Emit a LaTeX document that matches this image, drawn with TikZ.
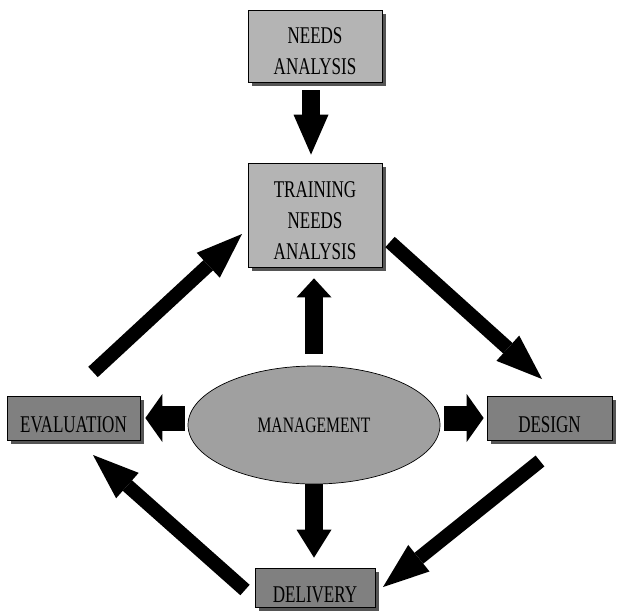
\documentclass[tikz,border=0pt]{standalone}
\usepackage{fontspec}
\newfontfamily\condserif[FakeStretch=0.71]{Liberation Serif}
\usetikzlibrary{arrows.meta,shapes.geometric,shadows}
\definecolor{lightbox}{RGB}{180,180,180}
\definecolor{darkbox}{RGB}{128,128,128}
\definecolor{ellfill}{RGB}{160,160,160}
\definecolor{shadowgray}{RGB}{85,85,85}
\tikzset{
  boxbase/.style={draw=black, line width=0.7pt, rectangle, inner sep=0pt,
    drop shadow={shadow xshift=4pt, shadow yshift=-4pt, fill=shadowgray, opacity=1},
    font={\condserif\fontsize{24}{31}\selectfont}},
  lightstep/.style={boxbase, fill=lightbox, text width=134pt, align=center},
  darkstep/.style={boxbase, fill=darkbox, text height=28pt, text depth=0pt},
  vertarrow/.style={line width=18pt, -{Triangle[width=35pt,length=#1,line width=0pt]}},
  sidearrow/.style={line width=25pt, -{Triangle[width=48pt,length=17pt,line width=0pt]}},
  diagarrow/.style={line width=14pt, -{Triangle[width=34pt,length=46pt,line width=0pt]}}
}
\begin{document}
\begin{tikzpicture}[x=1pt,y=-1pt]
\useasboundingbox (0,0) rectangle (617,611);

\node[lightstep, minimum width=134pt, minimum height=72pt, text height=20pt, text depth=26pt]
  (na) at (315,46) {NEEDS\\ANALYSIS};
\node[lightstep, minimum width=134pt, minimum height=104pt, text height=10pt, text depth=46pt]
  (tna) at (315,215) {TRAINING\\NEEDS\\ANALYSIS};
\node[darkstep, minimum width=133pt, minimum height=44pt] (eval) at (73.5,418) {EVALUATION};
\node[darkstep, minimum width=125pt, minimum height=44pt] (design) at (549.5,418) {DESIGN};
\node[darkstep, minimum width=120pt, minimum height=39pt, text height=30pt] (delivery) at (315,587.5) {DELIVERY};
\node[ellipse, draw=black, line width=0.7pt, fill=ellfill, inner sep=0pt,
      minimum width=252pt, minimum height=118pt, text height=14pt, text depth=0pt,
      font={\condserif\fontsize{22}{31}\selectfont}]
  (mgmt) at (314,425) {MANAGEMENT};

\coordinate (d1s) at (390,242);
\coordinate (d1e) at (542,379);
\coordinate (d2s) at (540,461);
\coordinate (d2e) at (383,587);
\coordinate (d3s) at (245,590);
\coordinate (d3e) at (93,455);
\coordinate (d4s) at (93,372);
\coordinate (d4e) at (242,234);

\draw[vertarrow=40pt, shorten <=8pt, shorten >=8pt] ([xshift=-4pt]na.south) -- ([xshift=-4pt]tna.north);
\draw[vertarrow=19pt, shorten <=12pt, shorten >=11pt] (mgmt.north) -- (mgmt.north |- tna.south);
\draw[vertarrow=28pt, shorten >=10pt] (mgmt.south) -- (mgmt.south |- delivery.north);
\draw[sidearrow, shorten <=3pt, shorten >=5pt] (mgmt.west |- eval.east) -- (eval.east);
\draw[sidearrow, shorten <=4pt, shorten >=3pt] (mgmt.east |- design.west) -- (design.west);

\draw[diagarrow] (d1s) -- (d1e);
\draw[diagarrow] (d2s) -- (d2e);
\draw[diagarrow] (d3s) -- (d3e);
\draw[diagarrow] (d4s) -- (d4e);
\end{tikzpicture}
\end{document}
